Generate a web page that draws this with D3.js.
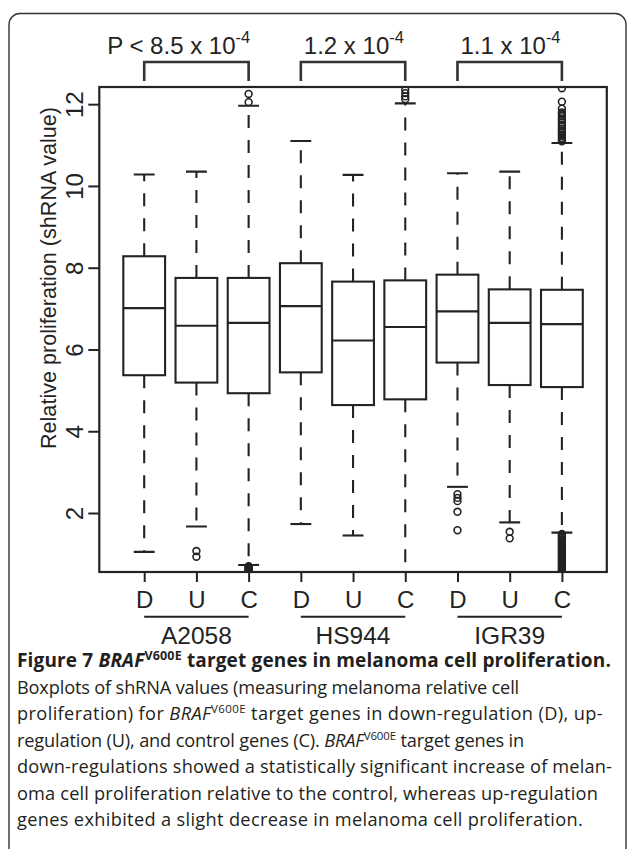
<!DOCTYPE html>
<html>
<head>
<meta charset="utf-8">
<script src="https://cdn.jsdelivr.net/npm/d3@7"></script>
<style>
  body { margin: 0; background: #fff; }
  svg { display: block; }
</style>
</head>
<body>
<svg id="chart" width="629" height="849"></svg>
<script>
// ---- data ----
const groups = ["A2058", "HS944", "IGR39"];
const classes = ["D", "U", "C"];
const lowWhisker = [1.05, 1.67, 0.73, 1.73, 1.45, 0.40, 2.64, 1.77, 1.52];
const q1 = [5.37, 5.19, 4.93, 5.44, 4.64, 4.78, 5.68, 5.13, 5.08];
const medians = [7.01, 6.58, 6.65, 7.06, 6.22, 6.55, 6.93, 6.65, 6.62];
const q3 = [8.28, 7.75, 7.75, 8.11, 7.66, 7.69, 7.83, 7.47, 7.46];
const highWhisker = [10.28, 10.35, 11.96, 11.10, 10.27, 12.02, 10.31, 10.35, 11.05];
const outliers = [
  [],
  [1.07, 0.93],
  [12.25, 12.05, 0.70, 0.68, 0.66, 0.64, 0.62, 0.60, 0.58, 0.56],
  [],
  [],
  [12.12, 12.19, 12.27, 12.35],
  [2.46, 2.37, 2.29, 2.03, 1.58],
  [1.54, 1.38],
  [12.39, 12.06, 11.89, 11.80, 11.76, 11.71, 11.65, 11.61, 11.55, 11.50, 11.46, 11.40, 11.35, 11.31,
   11.26, 11.22, 11.17, 11.13, 11.09,
   1.49, 1.46, 1.43, 1.40, 1.36, 1.33, 1.30, 1.27, 1.24, 1.21, 1.18, 1.15, 1.12, 1.09, 1.06, 1.03,
   1.00, 0.97, 0.94, 0.91, 0.88, 0.85, 0.82, 0.79, 0.76, 0.73, 0.70, 0.67, 0.64, 0.61, 0.58, 0.55]
];
const pTexts = ["P < 8.5 x 10", "1.2 x 10", "1.1 x 10"];
const pExps = ["-4", "-4", "-4"];
const yTicks = [2, 4, 6, 8, 10, 12];
const yLabel = "Relative proliferation (shRNA value)";

const svg = d3.select("#chart");
const ink = "#232323";
const font = "'Liberation Sans', Arial, sans-serif";
const fs = "24px";

// figure frame (rounded panel)
svg.append("rect")
  .attr("x", 9).attr("y", 13.5)
  .attr("width", 617).attr("height", 845)
  .attr("rx", 11).attr("ry", 11)
  .attr("fill", "none").attr("stroke", "#333").attr("stroke-width", 1.4);

// scales
const x = d3.scaleLinear().domain([0.14, 9.86]).range([99.3, 606.8]);
const y = d3.scaleLinear().domain([0.557, 12.42]).range([572, 87]);
const boxW = (x(1) - x(0)) * 0.8;
const capW = boxW * 0.5;

const stats = lowWhisker.map((d, i) => ({
  pos: i + 1, lo: d, q1: q1[i], med: medians[i], q3: q3[i], hi: highWhisker[i], out: outliers[i]
}));

svg.append("clipPath").attr("id", "plotclip")
  .append("rect").attr("x", x(0.14)).attr("y", y(12.42))
  .attr("width", x(9.86) - x(0.14)).attr("height", y(0.557) - y(12.42));

const plot = svg.append("g").attr("clip-path", "url(#plotclip)");

const bx = plot.selectAll("g.box").data(stats).enter().append("g").attr("class", "box");

// whiskers (dashed, from hinge outward)
bx.append("line")
  .attr("x1", d => x(d.pos)).attr("x2", d => x(d.pos))
  .attr("y1", d => y(d.q3)).attr("y2", d => y(d.hi))
  .attr("stroke", ink).attr("stroke-width", 2.1).attr("stroke-dasharray", "13 12");
bx.append("line")
  .attr("x1", d => x(d.pos)).attr("x2", d => x(d.pos))
  .attr("y1", d => y(d.q1)).attr("y2", d => y(d.lo))
  .attr("stroke", ink).attr("stroke-width", 2.1).attr("stroke-dasharray", "13 12");
// staples
bx.selectAll("line.cap").data(d => [d.lo, d.hi].map(v => ({ pos: d.pos, v })))
  .enter().append("line").attr("class", "cap")
  .attr("x1", d => x(d.pos) - capW / 2).attr("x2", d => x(d.pos) + capW / 2)
  .attr("y1", d => y(d.v)).attr("y2", d => y(d.v))
  .attr("stroke", ink).attr("stroke-width", 2.1);
// box
bx.append("rect")
  .attr("x", d => x(d.pos) - boxW / 2).attr("width", boxW)
  .attr("y", d => y(d.q3)).attr("height", d => y(d.q1) - y(d.q3))
  .attr("fill", "#fff").attr("stroke", ink).attr("stroke-width", 2.1);
bx.append("line")
  .attr("x1", d => x(d.pos) - boxW / 2).attr("x2", d => x(d.pos) + boxW / 2)
  .attr("y1", d => y(d.med)).attr("y2", d => y(d.med))
  .attr("stroke", ink).attr("stroke-width", 2.2);
// outliers
bx.selectAll("circle").data(d => d.out.map(v => ({ pos: d.pos, v })))
  .enter().append("circle")
  .attr("cx", d => x(d.pos)).attr("cy", d => y(d.v)).attr("r", 3.4)
  .attr("fill", "none").attr("stroke", ink).attr("stroke-width", 1.6);

// plot frame
svg.append("rect")
  .attr("x", x(0.14)).attr("y", y(12.42))
  .attr("width", x(9.86) - x(0.14)).attr("height", y(0.557) - y(12.42))
  .attr("fill", "none").attr("stroke", ink).attr("stroke-width", 2.2);

// y axis
const yAxis = svg.append("g")
  .attr("transform", `translate(${x(0.14)},0)`)
  .call(d3.axisLeft(y).tickValues(yTicks).tickSize(11).tickFormat(d3.format("d")));
yAxis.select(".domain").remove();
yAxis.selectAll(".tick line").attr("stroke", ink).attr("stroke-width", 2);
yAxis.selectAll(".tick text")
  .attr("transform", "rotate(-90)")
  .attr("x", 0).attr("y", -16.5).attr("dy", 0)
  .attr("text-anchor", "middle")
  .attr("fill", ink)
  .style("font-family", font).style("font-size", fs);

svg.append("text")
  .attr("transform", `translate(56,278) rotate(-90)`)
  .attr("text-anchor", "middle")
  .attr("fill", ink)
  .style("font-family", font).style("font-size", "21.6px")
  .text(yLabel);

// x axis
const xAxis = svg.append("g")
  .attr("transform", `translate(0,${y(0.557)})`)
  .call(d3.axisBottom(x).tickValues(d3.range(1, 10)).tickSize(10)
    .tickFormat((d, i) => classes[i % 3]));
xAxis.select(".domain").remove();
xAxis.selectAll(".tick line").attr("stroke", ink).attr("stroke-width", 2);
xAxis.selectAll(".tick text")
  .attr("y", 36).attr("dy", 0)
  .attr("fill", ink)
  .style("font-family", font).style("font-size", fs);

// group underline + names
groups.forEach((g, i) => {
  const a = i * 3 + 1, c = i * 3 + 3;
  svg.append("line")
    .attr("x1", x(a)).attr("x2", x(c)).attr("y1", 616.7).attr("y2", 616.7)
    .attr("stroke", ink).attr("stroke-width", 2);
  svg.append("text")
    .attr("x", x(a + 1)).attr("y", 643.5)
    .attr("text-anchor", "middle").attr("fill", ink)
    .style("font-family", font).style("font-size", "24.5px")
    .text(g);
});

// significance brackets
groups.forEach((g, i) => {
  const a = i * 3 + 1, c = i * 3 + 3;
  svg.append("path")
    .attr("d", `M${x(a)},81 V62 H${x(c)} V81`)
    .attr("fill", "none").attr("stroke", "#333").attr("stroke-width", 2.6);
  const t = svg.append("text")
    .attr("x", i === 0 ? x(a) - 37 : x(a) + 3).attr("y", 54.3)
    .attr("fill", ink)
    .style("font-family", font).style("font-size", fs);
  t.append("tspan").text(pTexts[i]);
  t.append("tspan").attr("dy", -11).style("font-size", "16.5px").text(pExps[i]);
});

// caption
const cap = svg.append("g").style("font-family", "'Open Sans', 'Noto Sans', sans-serif").attr("fill", "#231f20");
const title = cap.append("text").attr("x", 17).attr("y", 667.3)
  .style("font-size", "19px").style("font-weight", "bold");
title.append("tspan").text("Figure 7 ");
title.append("tspan").style("font-style", "italic").text("BRAF");
title.append("tspan").attr("dy", -7.5).style("font-size", "12.5px").text("V600E");
title.append("tspan").attr("dy", 7.5).text(" target genes in melanoma cell proliferation.");

const lineY = [693.8, 720.3, 746.8, 773.3, 799.8, 826.3];
const bodySize = "18.2px";
function bodyLine(k) {
  return cap.append("text").attr("x", 17).attr("y", lineY[k]).style("font-size", bodySize);
}
bodyLine(0).text("Boxplots of shRNA values (measuring melanoma relative cell");
let l2 = bodyLine(1);
l2.append("tspan").text("proliferation) for ");
l2.append("tspan").style("font-style", "italic").text("BRAF");
l2.append("tspan").attr("dy", -7).style("font-size", "11.5px").text("V600E");
l2.append("tspan").attr("dy", 7).text(" target genes in down-regulation (D), up-");
let l3 = bodyLine(2);
l3.append("tspan").text("regulation (U), and control genes (C). ");
l3.append("tspan").style("font-style", "italic").text("BRAF");
l3.append("tspan").attr("dy", -7).style("font-size", "11.5px").text("V600E");
l3.append("tspan").attr("dy", 7).text(" target genes in");
bodyLine(3).text("down-regulations showed a statistically significant increase of melan-");
bodyLine(4).text("oma cell proliferation relative to the control, whereas up-regulation");
bodyLine(5).text("genes exhibited a slight decrease in melanoma cell proliferation.");

// nudge letter spacing so each caption line ends where it does in the figure
const lineEnds = [611, 519, 603, 524, 612, 598, 583];
cap.selectAll("text").each(function (d, i) {
  const w = this.getComputedTextLength();
  const n = this.textContent.length;
  const ls = (lineEnds[i] - 17 - w) / n;
  d3.select(this).style("letter-spacing", ls.toFixed(3) + "px");
});
</script>
</body>
</html>
